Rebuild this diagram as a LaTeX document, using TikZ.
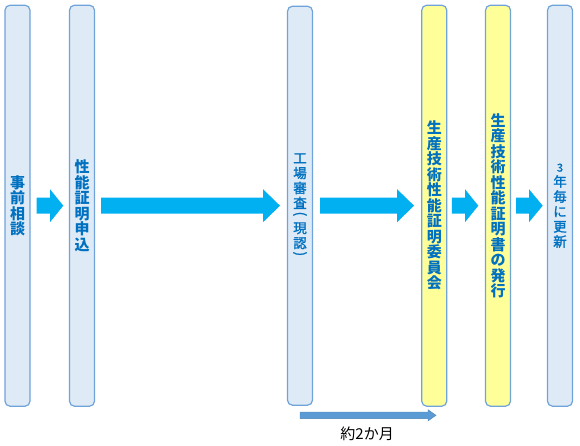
\documentclass[tikz,border=0pt]{standalone}
\usepackage{fontspec}
\setmainfont{Noto Sans CJK JP}
\newfontfamily\jpmedium[FakeBold=1.6]{Noto Sans CJK JP}
\usetikzlibrary{calc}
\definecolor{boxfill}{HTML}{DEEBF7}
\definecolor{boxline}{HTML}{6FA3DA}
\definecolor{yelfill}{HTML}{FFFF99}
\definecolor{txtblue}{HTML}{0070C0}
\definecolor{arrcyan}{HTML}{00B0F0}
\definecolor{arrsteel}{HTML}{5B9BD5}
\begin{document}
\begin{tikzpicture}[x=1pt,y=-1pt,
  stage/.style={draw=boxline, line width=1.2pt, rounded corners=5pt,
    minimum width=25pt, minimum height=401pt, inner sep=0pt,
    align=center, text=txtblue},
  bluebox/.style={stage, fill=boxfill},
  yelbox/.style={stage, fill=yelfill},
  strongtxt/.style={font=\bfseries\fontsize{15}{15.5}\selectfont},
  plaintxt/.style={font=\jpmedium\fontsize{13.5}{15}\selectfont},
  arrowbody/.style n args={5}{insert path={
    (\x1+#1,\y1+#4) -- (\x2-#2-#3,\y1+#4) -- (\x2-#2-#3,\y1+#5)
    -- (\x2-#2,\y1) -- (\x2-#2-#3,\y1-#5) -- (\x2-#2-#3,\y1-#4)
    -- (\x1+#1,\y1-#4) -- cycle}},
  bigarrow/.style={fill=arrcyan},
  spanarrow/.style={fill=arrsteel, draw=arrsteel!85!black, line width=0.4pt},
]
\useasboundingbox (0,0) rectangle (580,445);

\node[bluebox, strongtxt] (b1) at (17.5,205.7) {事\\前\\相\\談};
\node[bluebox, strongtxt] (b2) at (82,205.7) {性\\能\\証\\明\\申\\込};
\node[bluebox, plaintxt, minimum height=399pt] (b3) at (300,205.7)
  {工\\場\\審\\査\\[-5pt]\rotatebox[origin=c]{-90}{(}\\現\\認\\[-5pt]\rotatebox[origin=c]{-90}{)}};
\node[yelbox, strongtxt] (b4) at (434.25,205.7) {生\\産\\技\\術\\性\\能\\証\\明\\委\\員\\会};
\node[yelbox, strongtxt] (b5) at (498,205.7) {生\\産\\技\\術\\性\\能\\証\\明\\書\\の\\発\\行};
\node[bluebox, plaintxt] (b6) at (560,205.7) {{\fontsize{11}{11}\selectfont 3}\\年\\毎\\に\\更\\新};

\path[bigarrow] let \p1=(b1.east), \p2=(b2.west) in [arrowbody={6.1pt}{5.6pt}{13.3pt}{8pt}{16.5pt}];
\path[bigarrow] let \p1=(b2.east), \p2=(b3.west) in [arrowbody={5.9pt}{6.9pt}{17pt}{8pt}{16.5pt}];
\path[bigarrow] let \p1=(b3.east), \p2=(b4.west) in [arrowbody={6.9pt}{7.1pt}{17pt}{8pt}{16.5pt}];
\path[bigarrow] let \p1=(b4.east), \p2=(b5.west) in [arrowbody={4.4pt}{6.6pt}{13.3pt}{8pt}{16.5pt}];
\path[bigarrow] let \p1=(b5.east), \p2=(b6.west) in [arrowbody={4.9pt}{4.2pt}{13.7pt}{8pt}{16.5pt}];

\coordinate (t0) at ($(b3.south)+(0,9.5)$);
\coordinate (t1) at (t0 -| b4.south);
\path[spanarrow] let \p1=(t0), \p2=(t1) in [arrowbody={0pt}{-1.75pt}{8pt}{3.3pt}{5.6pt}];
\node[font=\fontsize{15}{15}\selectfont, text=black] (lab) at ($(t0)!0.5!(t1)+(0,18.5)$) {約2か月};
\end{tikzpicture}
\end{document}
